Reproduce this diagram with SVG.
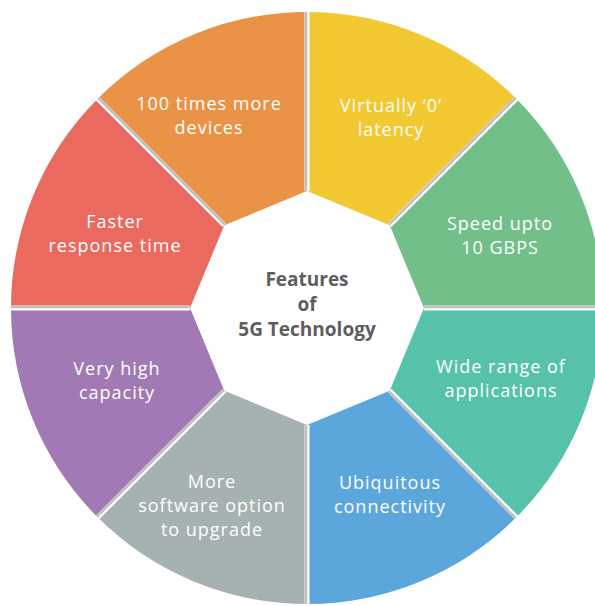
<svg xmlns="http://www.w3.org/2000/svg" width="595" height="606" viewBox="0 0 595 606">
<style>
.lbl{font-family:"Open Sans","Liberation Sans",sans-serif;font-size:18px;font-weight:500;fill:#fff;text-anchor:middle;letter-spacing:1px}
.ctr{font-family:"Open Sans","Liberation Sans",sans-serif;font-size:19px;font-weight:bold;fill:#5e5e5e;text-anchor:middle}
.gapw{stroke:#fff;stroke-width:5;fill:none}
.gapg{stroke:#bcc0c0;stroke-width:2.5;fill:none}
</style>
<rect width="595" height="606" fill="#fff"/>
<g id="seg-orange"><path d="M97.7,98.7 A296,296 0 0 1 307,12 L307,191 L224.3,225.3 Z" fill="#EA9246"/>
<text class="lbl" x="209" y="110">100 times more</text><text class="lbl" x="209" y="134">devices</text></g>
<g id="seg-yellow"><path d="M307,12 A296,296 0 0 1 516.3,98.7 L389.7,225.3 L307,191 Z" fill="#F2C833"/>
<text class="lbl" x="391" y="112">Virtually ‘0’</text><text class="lbl" x="391" y="136">latency</text></g>
<g id="seg-green"><path d="M516.3,98.7 A296,296 0 0 1 603,308 L424,308 L389.7,225.3 Z" fill="#72BF8A"/>
<text class="lbl" x="500" y="230">Speed upto</text><text class="lbl" x="500" y="254">10 GBPS</text></g>
<g id="seg-teal"><path d="M603,308 A296,296 0 0 1 516.3,517.3 L389.7,390.7 L424,308 Z" fill="#56C2A9"/>
<text class="lbl" x="501" y="373">Wide range of</text><text class="lbl" x="501" y="397">applications</text></g>
<g id="seg-blue"><path d="M516.3,517.3 A296,296 0 0 1 307,604 L307,425 L389.7,390.7 Z" fill="#5BA7DB"/>
<text class="lbl" x="390" y="489">Ubiquitous</text><text class="lbl" x="390" y="513">connectivity</text></g>
<g id="seg-gray"><path d="M307,604 A296,296 0 0 1 97.7,517.3 L224.3,390.7 L307,425 Z" fill="#A6B1B1"/>
<text class="lbl" x="212" y="488">More</text><text class="lbl" x="212" y="512">software option</text><text class="lbl" x="212" y="536">to upgrade</text></g>
<g id="seg-purple"><path d="M97.7,517.3 A296,296 0 0 1 11,308 L190,308 L224.3,390.7 Z" fill="#A079B5"/>
<text class="lbl" x="117" y="375">Very high</text><text class="lbl" x="117" y="399">capacity</text></g>
<g id="seg-red"><path d="M11,308 A296,296 0 0 1 97.7,98.7 L224.3,225.3 L190,308 Z" fill="#EA6A5F"/>
<text class="lbl" x="115" y="228">Faster</text><text class="lbl" x="115" y="252">response time</text></g>
<g id="gaps">
<path class="gapw" d="M424,308 L603,308 M389.7,390.7 L516.3,517.3 M307,425 L307,604 M224.3,390.7 L97.7,517.3 M190,308 L11,308 M224.3,225.3 L97.7,98.7 M307,191 L307,12 M389.7,225.3 L516.3,98.7"/>
<path class="gapg" d="M424,307 L603,307 M389,391.5 L515.6,518 M306,425 L306,604 M223.6,390 L97,516.6 M190,307 L11,307 M225,224.6 L98.4,98 M306,191 L306,12 M389,224.6 L515.6,98"/>
</g>
<g id="center">
<text class="ctr" x="307" y="286">Features</text>
<text class="ctr" x="307" y="311">of</text>
<text class="ctr" x="307" y="336">5G Technology</text>
</g>
</svg>
